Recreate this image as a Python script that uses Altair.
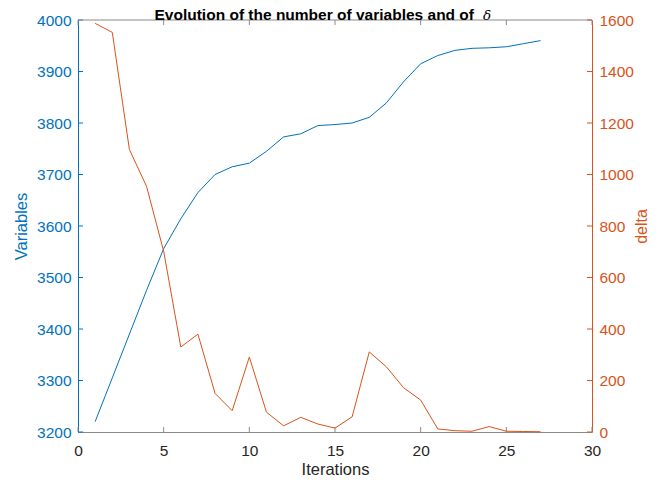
import altair as alt
import pandas as pd

# ---- data ----
iterations = list(range(1, 28))
variables = [3220, 3305, 3390, 3475, 3556, 3614, 3665, 3700, 3715, 3722,
             3745, 3773, 3779, 3795, 3797, 3800, 3811, 3839, 3880, 3915,
             3931, 3941, 3945, 3946, 3948, 3954, 3960]
delta = [1587, 1552, 1097, 954, 702, 330, 380, 150, 83, 291,
         77, 24, 57, 31, 15, 59, 311, 253, 172, 124,
         12, 5, 3, 21, 3, 2, 1]
x_ticks = [0, 5, 10, 15, 20, 25, 30]
var_ticks = [3200, 3300, 3400, 3500, 3600, 3700, 3800, 3900, 4000]
delta_ticks = [0, 200, 400, 600, 800, 1000, 1200, 1400, 1600]
title_main = "Evolution of the number of variables and of"
title_sym = "δ"

BLUE = "#0072BD"
ORANGE = "#D95319"
GRAY = "#8a8a8a"
DARK = "#262626"
FONT = "Liberation Sans"
W, H = 514, 412
TL = 5

df = pd.DataFrame({"it": iterations, "var": variables, "delta": delta})
xt = pd.DataFrame({"it": x_ticks})
vt = pd.DataFrame({"var": var_ticks})
dt = pd.DataFrame({"delta": delta_ticks})
one = pd.DataFrame({"k": [0]})

xscale = alt.Scale(domain=[0, 30], nice=False, zero=False)
vscale = alt.Scale(domain=[3200, 4000], nice=False, zero=False)
dscale = alt.Scale(domain=[0, 1600], nice=False, zero=False)

x_axis = alt.Axis(values=x_ticks, title="Iterations", ticks=False, grid=False, format="d",
                  labelFlush=False, domainColor=GRAY, labelColor=DARK, titleColor=DARK,
                  labelFont=FONT, labelFontSize=15.5, labelPadding=11,
                  titleFont=FONT, titleFontSize=16.5, titleFontWeight="normal",
                  titlePadding=3)
v_axis = alt.Axis(orient="left", values=var_ticks, title="Variables", ticks=False,
                  grid=False, format="d", labelFlush=False, domainColor=BLUE,
                  labelColor=BLUE, titleColor=BLUE, labelFont=FONT, labelFontSize=15.5,
                  labelPadding=7, titleFont=FONT, titleFontSize=16.5,
                  titleFontWeight="normal", titlePadding=7)
d_axis = alt.Axis(orient="right", values=delta_ticks, title="delta", ticks=False,
                  grid=False, format="d", labelFlush=False, domainColor=ORANGE,
                  labelColor=ORANGE, titleColor=ORANGE, labelFont=FONT,
                  labelFontSize=15.5, labelPadding=7, titleFont=FONT, titleFontSize=16,
                  titleFontWeight="normal", titleAngle=270, titleBaseline="top",
                  titlePadding=0)


def X():
    return alt.X("it:Q", scale=xscale, axis=x_axis)


def YV():
    return alt.Y("var:Q", scale=vscale, axis=v_axis)


def YD():
    return alt.Y("delta:Q", scale=dscale, axis=d_axis)


blue_line = alt.Chart(df).mark_line(color=BLUE, strokeWidth=1).encode(x=X(), y=YV())
left_ticks = alt.Chart(vt).mark_rule(color=BLUE, strokeWidth=1).encode(
    x=alt.value(0), x2=alt.value(TL), y=YV())
x_ticks_bottom = alt.Chart(xt).mark_rule(color=GRAY, strokeWidth=1).encode(
    x=X(), y=alt.value(H), y2=alt.value(H - TL))
x_ticks_top = alt.Chart(xt).mark_rule(color=GRAY, strokeWidth=1).encode(
    x=X(), y=alt.value(0), y2=alt.value(TL))
top_border = alt.Chart(one).mark_rule(color=GRAY, strokeWidth=1).encode(
    x=alt.value(0), x2=alt.value(W), y=alt.value(0))

title1 = alt.Chart(one).mark_text(font=FONT, fontSize=15.5, fontWeight="bold",
                                  align="right", baseline="alphabetic", color="#000000").encode(
    x=alt.value(396), y=alt.value(-0.5), text=alt.value(title_main))
title2 = alt.Chart(one).mark_text(font="DejaVu Serif", fontSize=13.5, fontStyle="italic",
                                  align="left", baseline="alphabetic", color="#000000").encode(
    x=alt.value(405), y=alt.value(-0.5), text=alt.value(title_sym))

left = alt.layer(blue_line, left_ticks, x_ticks_bottom, x_ticks_top, top_border, title1, title2)

orange_line = alt.Chart(df).mark_line(color=ORANGE, strokeWidth=1).encode(x=X(), y=YD())
right_ticks = alt.Chart(dt).mark_rule(color=ORANGE, strokeWidth=1).encode(
    x=alt.value(W - TL), x2=alt.value(W), y=YD())
right = alt.layer(orange_line, right_ticks)

chart = alt.layer(left, right).resolve_scale(y="independent").properties(
    width=W, height=H,
    autosize=alt.AutoSizeParams(type="none"),
    padding={"left": 70, "top": 12, "right": 59, "bottom": 46},
    background="white",
).configure_view(stroke=None)

chart.save("out.html", embed_options={"renderer": "svg", "actions": False})
